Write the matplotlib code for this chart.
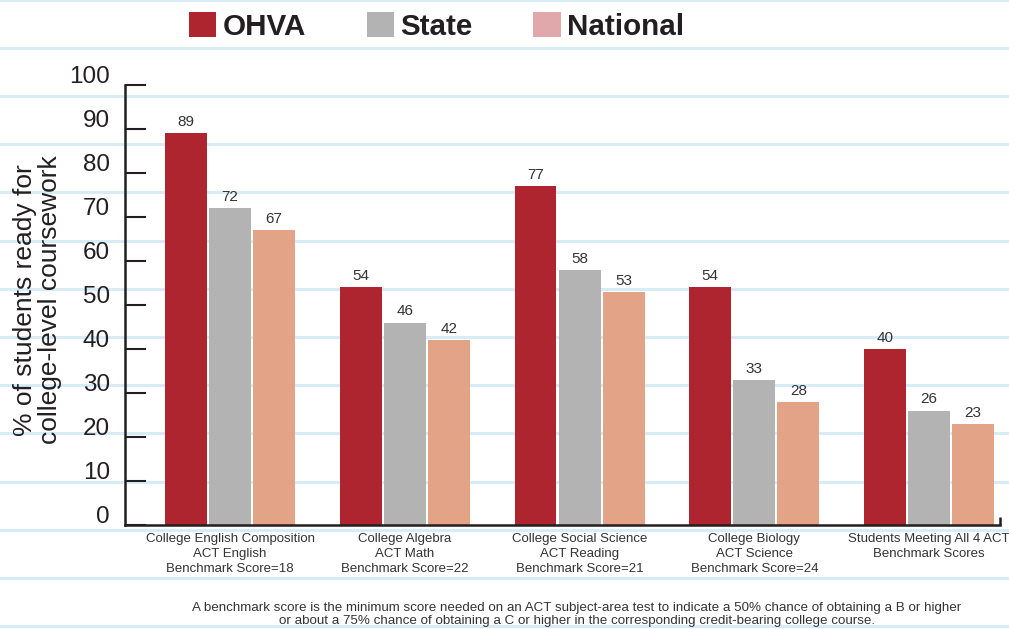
import matplotlib
matplotlib.use("Agg")
import matplotlib.pyplot as plt
import numpy as np
from matplotlib.patches import Patch
from matplotlib.lines import Line2D
from matplotlib.transforms import ScaledTranslation

plt.rcParams['font.family'] = ['Liberation Sans', 'DejaVu Sans']

categories = ["College English Composition\nACT English\nBenchmark Score=18",
              "College Algebra\nACT Math\nBenchmark Score=22",
              "College Social Science\nACT Reading\nBenchmark Score=21",
              "College Biology\nACT Science\nBenchmark Score=24",
              "Students Meeting All 4 ACT\nBenchmark Scores"]
series_names = ["OHVA", "State", "National"]
ohva = [89, 54, 77, 54, 40]
state = [72, 46, 58, 33, 26]
national = [67, 42, 53, 28, 23]
yticks = list(range(0, 101, 10))

bar_colors = ["#ae2530", "#b3b3b3", "#e3a386"]
legend_colors = ["#ae2530", "#b3b3b3", "#e0a8aa"]
text_dark = "#231f20"

W, H = 1009, 629
fig = plt.figure(figsize=(W / 100, H / 100), dpi=100)
fig.patch.set_facecolor("white")

# notebook-paper background lines
for k in range(14):
    yy = 1 - (-0.5 + 48.2 * k) / H
    fig.add_artist(Line2D([0, 1], [yy, yy], transform=fig.transFigure,
                          color="#d8ecf8", lw=2.2, zorder=-1))

ax = fig.add_axes([125 / W, (H - 525) / H, 875 / W, 440 / H])
ax.patch.set_visible(False)

x = np.arange(len(categories))
pitch = 0.252
width = 0.24
data = [ohva, state, national]
for i, (vals, col) in enumerate(zip(data, bar_colors)):
    bars = ax.bar(x + (i - 1) * pitch, vals, width, color=col, zorder=2)
    ax.bar_label(bars, padding=3, fontsize=11, color="#333333")

ax.set_xlim(-0.601, 4.406)
ax.set_ylim(0, 100)

for s in ["top", "right"]:
    ax.spines[s].set_visible(False)
for s in ["left", "bottom"]:
    ax.spines[s].set_linewidth(1.8)
    ax.spines[s].set_color(text_dark)

ax.set_yticks(yticks)
ax.set_yticklabels([])
ax.tick_params(axis="y", direction="in", length=15, width=1.5, color=text_dark)
ytrans = ax.get_yaxis_transform() + ScaledTranslation(-15 / 100, 2 / 100, fig.dpi_scale_trans)
for t in yticks:
    ax.text(0, t, str(t), transform=ytrans,
            ha="right", va="baseline", fontsize=17.5, color=text_dark,
            clip_on=False)

ax.set_xticks(x)
ax.set_xticklabels(categories, fontsize=9.5, color="#333333", linespacing=1.3)
ax.tick_params(axis="x", length=0, pad=6)
ax.set_xticks([4.406], minor=True)
ax.tick_params(axis="x", which="minor", direction="in", length=6, width=1.8,
               color=text_dark)

fig.text(37.5 / W, 1 - 300 / H, "% of students ready for\ncollege-level coursework",
         rotation=90, ha="center", va="center", fontsize=19, color=text_dark,
         linespacing=1.1)

fig.text(577 / W, 14.5 / H,
         "A benchmark score is the minimum score needed on an ACT subject-area test to indicate a 50% chance of obtaining a B or higher\n"
         "or about a 75% chance of obtaining a C or higher in the corresponding credit-bearing college course.",
         ha="center", va="center", fontsize=9.6, color="#333333", linespacing=1.12)

handles = [Patch(facecolor=c, edgecolor="none") for c in legend_colors]
fig.legend(handles, series_names, loc="center left",
           bbox_to_anchor=(189 / W, 1 - 26.5 / H), ncol=3, frameon=False,
           prop={"size": 21.3, "weight": "bold"}, handlelength=0.92,
           handleheight=0.92, handletextpad=0.22, columnspacing=2.05,
           borderpad=0, borderaxespad=0, labelcolor=text_dark)

fig.savefig("out.png", dpi=100)
